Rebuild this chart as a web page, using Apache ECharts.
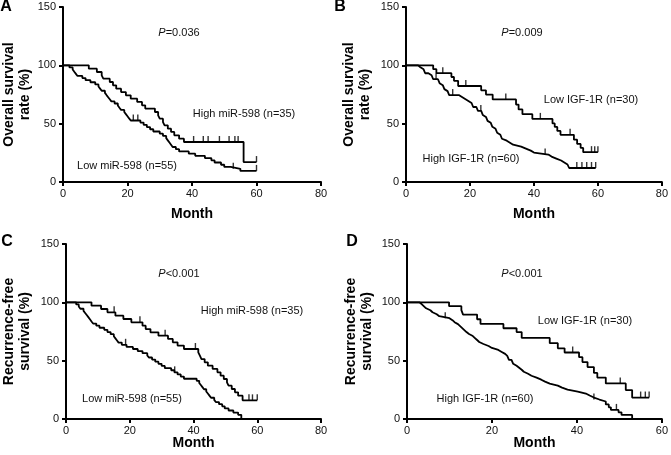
<!DOCTYPE html>
<html><head><meta charset="utf-8">
<script src="https://cdn.jsdelivr.net/npm/echarts@6/dist/echarts.min.js"></script>
<style>html,body{margin:0;padding:0;background:#fff}#c{width:671px;height:455px}</style>
</head><body><div id="c"></div>
<script>
// ---- Panel A: Overall survival by miR-598 ----
const aHigh = [[0,100],[8,97.1],[10.5,94.3],[12,91.4],[12.5,88.6],[14.5,85.7],[15.5,82.9],[16.5,80],[18,77.1],[19.5,74.3],[21,71.4],[23,68.6],[24.5,65.7],[25.5,62.9],[28.5,60],[29.5,57.1],[30,54.3],[31,51.4],[31.5,48.6],[32.5,45.7],[33.5,42.9],[34.5,40],[36,37.1],[37.5,34.3],[56,17.1],[60,17.1]];
const aHighCens = [40.5,43.5,45,48.5,51.5,53.3,54.3,60];
const aLow = [[0,100],[2,98.2],[3,96.4],[3.5,94.5],[4,92.7],[4.5,90.9],[6,89.1],[7,87.3],[8.5,85.5],[10,83.6],[11,81.8],[11.5,80],[12,78.2],[13,76.4],[13.5,74.5],[14,72.7],[14.5,70.9],[15,69.1],[16,67.3],[17,65.5],[17.5,63.6],[18,61.8],[19,60],[19.5,58.2],[20,56.4],[20.5,54.5],[21,52.7],[24,50.9],[25,49],[26,47.1],[27,45.2],[28,43.3],[30,41.4],[31,39.5],[32,37.6],[32.5,35.7],[33,33.8],[33.5,31.9],[34,30],[35,28.1],[36,26.2],[39,24.3],[41,22.4],[44,20.5],[46,18.6],[47,16.7],[49,14.8],[50,12.9],[52,11.3],[55,9.5],[60,9.5]];
const aLowCens = [21.8,23.2,52.8,60];

// ---- Panel B: Overall survival by IGF-1R ----
const bLow = [[0,100],[8.5,96.7],[9.5,93.3],[14.2,90],[15,86.7],[16.3,82.3],[23.5,78.6],[25,74.9],[27.1,70.8],[34.4,66.4],[35.2,62.2],[36.4,58.1],[39.5,54.1],[45.8,50.2],[46.5,47.2],[47.3,43.8],[48.3,40.4],[52.5,36.3],[53.5,32.6],[54.6,29.2],[55.4,25.6],[60,25.6]];
const bLowCens = [11.5,18.7,31.2,42,51.3,58,59,60];
const bHigh = [[0,100],[3.8,98.3],[4.5,96.6],[5.5,94.9],[6,93.2],[7,91.5],[8,89.8],[8.5,88.1],[10,86.4],[10.5,84.7],[11,83],[11.5,81.3],[12,79.6],[12.5,77.9],[13,76.2],[13.5,74.5],[16.5,72.8],[17.5,71.1],[18.5,69.4],[19.5,67.7],[20.5,66],[21,64.3],[22,62.6],[22.5,60.9],[23.5,59.2],[24,57.5],[24.5,55.8],[25,54.1],[25.5,52.4],[26,50.7],[26.5,49],[27,47.3],[27.5,45.6],[28,43.9],[28.5,42.2],[29,40.5],[29.5,38.8],[30,37.1],[30.5,35.4],[31.5,33.7],[32.5,32],[33.5,30.3],[36,28.6],[37.5,26.9],[39,25.2],[40,23.5],[44.5,21.8],[45.5,20.1],[47,18.4],[48.5,16.7],[49.5,15],[50.5,13.3],[51,12],[59.3,12]];
const bHighCens = [9.4,14.6,23.4,43.5,53.4,55,56.5,58,59.3];

// ---- Panel C: Recurrence-free survival by miR-598 ----
const cHigh = [[0,100],[8,97.1],[11,94.3],[13,91.4],[15.5,88.6],[18,85.7],[20.5,82.9],[24,80],[25,77.1],[26.5,74.3],[29,71.4],[32,68.6],[33.5,65.7],[35,62.9],[37,60],[41.5,57.1],[42,54.3],[42.5,51.4],[43.5,48.6],[44.5,45.7],[46,42.9],[47.5,40],[48.5,37.1],[49.5,34.3],[50.5,31.4],[51,28.6],[52,25.7],[53,22.9],[54,20],[55.4,16],[60,16]];
const cHighCens = [15.1,23.2,31.1,40.6,57.4,58.5,60];
const cLow = [[0,100],[3.2,98.2],[4,96.4],[4.5,94.5],[5.5,92.7],[6,90.9],[6.5,89.1],[7,87.3],[7.5,85.5],[8,83.6],[8.5,81.8],[9.5,80],[10.5,78.2],[12,76.4],[13,74.5],[14,72.7],[15,70.9],[15.5,69.1],[16,67.3],[16.5,65.5],[17.5,63.6],[19,61.8],[21,60],[22.5,58.2],[24,56.4],[25.5,54.5],[26,52.7],[27,50.9],[28,49.1],[29,47.3],[30,45.5],[31,43.6],[33,41.8],[34,40],[35,38.2],[36,36.4],[37,34.5],[41,32.7],[41.8,30.9],[42.3,29.1],[42.8,27.3],[43.3,25.5],[44,23.6],[44.5,21.8],[45,20],[45.5,18.2],[46.5,16.4],[47,14.5],[48,12.7],[49,10.9],[49.8,9.1],[51,7.3],[52.5,5.5],[54,3.6],[55,0]];
const cLowCens = [18.7,34.1];

// ---- Panel D: Recurrence-free survival by IGF-1R ----
const dLow = [[0,100],[9.9,96.7],[12.8,93.3],[13.2,89.5],[16.5,85.5],[17.3,81.5],[22.7,77.8],[25.8,74.5],[27,69.5],[33.6,65],[35.5,60.6],[37.1,57],[40.5,53],[41.3,48.8],[42.5,44.5],[44,39.5],[44.8,35.5],[46.8,30.5],[51.5,24.8],[53,18.4],[57,18.4]];
const dLowCens = [39,50.2,55,56.1,57];
const dHigh = [[0,100],[2.9,98.3],[3.5,96.6],[4,94.9],[4.5,93.2],[5.5,91.5],[6,89.8],[7,88.1],[7.6,86.4],[10,84.7],[10.7,83],[11.2,81.3],[12,79.6],[12.5,77.9],[13,76.2],[13.5,74.5],[14,72.8],[14.6,71.1],[15.5,69.4],[16,67.7],[16.5,66],[17,64.3],[18,62.6],[19.2,60.9],[20,59.2],[21.5,57.5],[22.3,55.8],[23.1,54.1],[23.6,52.4],[24,50.7],[24.6,49],[25,47.3],[25.4,45.6],[25.8,43.9],[26.4,42.2],[27,40.5],[27.5,38.8],[28.5,37.1],[29.3,35.4],[30.5,33.7],[31.6,32],[32.5,30.3],[33.6,28.6],[35.5,26.9],[36.5,25.2],[37.8,23.5],[40.2,21.8],[42.1,20.1],[43,18.4],[44,16.7],[45.3,15],[46.8,12.5],[47.5,10],[48,7.8],[49.8,5.7],[50.5,3.5],[53,0]];
const dHighCens = [9,44,49.3];

// ---- Axis ticks / texts ----
const yTicks = [0, 50, 100, 150];
const xMaxes = [80, 80, 80, 60];
const panelLetters = ['A', 'B', 'C', 'D'];
const yTitles = ['Overall survival\nrate (%)', 'Overall survival\nrate (%)', 'Recurrence-free\nsurvival (%)', 'Recurrence-free\nsurvival (%)'];
const xTitle = 'Month';
const pTexts = ['=0.036', '=0.009', '<0.001', '<0.001'];
const groupLabels = [
  ['High miR-598 (n=35)', 'Low miR-598 (n=55)'],
  ['Low IGF-1R (n=30)', 'High IGF-1R (n=60)'],
  ['High miR-598 (n=35)', 'Low miR-598 (n=55)'],
  ['Low IGF-1R (n=30)', 'High IGF-1R (n=60)']
];

const curves = [[aHigh, aHighCens, aLow, aLowCens],[bLow, bLowCens, bHigh, bHighCens],[cHigh, cHighCens, cLow, cLowCens],[dLow, dLowCens, dHigh, dHighCens]];

const FONT = 'Liberation Sans, Arial, Helvetica, sans-serif';
const grids = [
  {left: 63, top: 7, width: 258, height: 175},
  {left: 406, top: 7, width: 259, height: 175},
  {left: 63, top: 244, width: 258, height: 175},
  {left: 407, top: 244, width: 258, height: 175}
];
const xNameGap = [25, 25, 17, 17];
const yNameGap = [30, 33, 33, 32];

function stepValue(curve, t) {
  let v = curve[0][1];
  for (const p of curve) { if (p[0] <= t) v = p[1]; }
  return v;
}

const xAxes = [], yAxes = [], series = [];
for (let i = 0; i < 4; i++) {
  xAxes.push({
    type: 'value', gridIndex: i, min: 0, max: xMaxes[i], interval: 20,
    name: xTitle, nameLocation: 'middle', nameGap: xNameGap[i], nameMoveOverlap: false,
    nameTextStyle: {fontFamily: FONT, fontWeight: 'bold', fontSize: 14, color: '#000'},
    axisLine: {onZero: false, lineStyle: {color: '#000', width: 2}},
    axisTick: {length: 4, lineStyle: {color: '#000', width: 2}},
    axisLabel: {fontFamily: FONT, fontSize: 11, color: '#111', margin: 6},
    splitLine: {show: false}
  });
  yAxes.push({
    type: 'value', gridIndex: i, min: yTicks[0], max: yTicks[yTicks.length - 1], interval: 50,
    name: yTitles[i], nameLocation: 'middle', nameGap: yNameGap[i], nameMoveOverlap: false,
    nameTextStyle: {fontFamily: FONT, fontWeight: 'bold', fontSize: 14, color: '#000', lineHeight: 16},
    axisLine: {onZero: false, lineStyle: {color: '#000', width: 2}},
    axisTick: {length: 4, lineStyle: {color: '#000', width: 2}},
    axisLabel: {fontFamily: FONT, fontSize: 11, color: '#111', margin: 7},
    splitLine: {show: false}
  });
  const [c1, c1c, c2, c2c] = curves[i];
  [[c1, c1c], [c2, c2c]].forEach(([cv, cens]) => {
    series.push({
      type: 'line', xAxisIndex: i, yAxisIndex: i, step: 'end', data: cv,
      showSymbol: false, symbol: 'none', animation: false, silent: true,
      lineStyle: {color: '#000', width: 1.8}
    });
    series.push({
      type: 'scatter', xAxisIndex: i, yAxisIndex: i,
      data: cens.map(t => [t, stepValue(cv, t)]),
      symbol: 'rect', symbolSize: [1.4, 6], symbolOffset: [0, -3],
      itemStyle: {color: '#000'}, animation: false, silent: true
    });
  });
}

// Text annotation positions (pixels)
const letterPos = [[6, 7], [340, 7], [7, 242], [352, 242]];
const pPos = [[179, 33], [522, 33], [179, 274], [522, 274]];
const labelPos = [
  [[244, 114], [127, 166]],
  [[591, 100], [471, 159]],
  [[252, 311], [132, 399]],
  [[585, 321], [485, 399]]
];
const graphic = [];
for (let i = 0; i < 4; i++) {
  graphic.push({type: 'text', x: letterPos[i][0], y: letterPos[i][1],
    style: {text: panelLetters[i], font: 'bold 16px ' + FONT, fill: '#000', align: 'center', verticalAlign: 'middle'}});
  graphic.push({type: 'text', x: pPos[i][0], y: pPos[i][1],
    style: {text: '{i|P}' + pTexts[i], font: '11px ' + FONT, fill: '#111', align: 'center', verticalAlign: 'middle',
      rich: {i: {fontStyle: 'italic', fontSize: 11, fontFamily: FONT, fill: '#111'}}}});
  for (let k = 0; k < 2; k++) {
    graphic.push({type: 'text', x: labelPos[i][k][0], y: labelPos[i][k][1],
      style: {text: groupLabels[i][k], font: '11px ' + FONT, fill: '#111', align: 'center', verticalAlign: 'middle'}});
  }
}

const chart = echarts.init(document.getElementById('c'), null, {renderer: 'canvas'});
chart.setOption({
  animation: false,
  backgroundColor: '#fff',
  grid: grids,
  xAxis: xAxes,
  yAxis: yAxes,
  series: series,
  graphic: graphic
});
</script>
</body></html>
